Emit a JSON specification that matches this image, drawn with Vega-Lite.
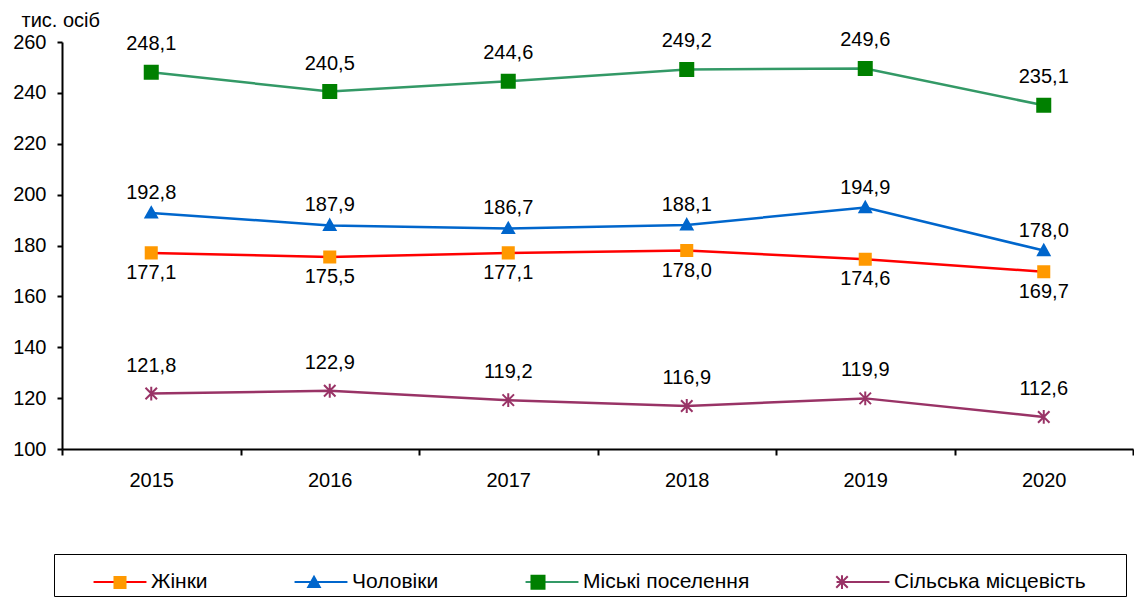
{
  "$schema": "https://vega.github.io/schema/vega-lite/v6.json",
  "width": 1071,
  "height": 407,
  "autosize": {"type": "none"},
  "padding": {"left": 62, "top": 42, "right": 1, "bottom": 161},
  "config": {
    "font": "Liberation Sans",
    "view": {"stroke": null},
    "locale": {"number": {"decimal": ",", "thousands": " ", "grouping": [3], "currency": ["", ""]}}
  },
  "data": {
    "values": [
      {"year": "2015", "series": "Жінки", "value": 177.1},
      {"year": "2016", "series": "Жінки", "value": 175.5},
      {"year": "2017", "series": "Жінки", "value": 177.1},
      {"year": "2018", "series": "Жінки", "value": 178.0},
      {"year": "2019", "series": "Жінки", "value": 174.6},
      {"year": "2020", "series": "Жінки", "value": 169.7},
      {"year": "2015", "series": "Чоловіки", "value": 192.8},
      {"year": "2016", "series": "Чоловіки", "value": 187.9},
      {"year": "2017", "series": "Чоловіки", "value": 186.7},
      {"year": "2018", "series": "Чоловіки", "value": 188.1},
      {"year": "2019", "series": "Чоловіки", "value": 194.9},
      {"year": "2020", "series": "Чоловіки", "value": 178.0},
      {"year": "2015", "series": "Міські поселення", "value": 248.1},
      {"year": "2016", "series": "Міські поселення", "value": 240.5},
      {"year": "2017", "series": "Міські поселення", "value": 244.6},
      {"year": "2018", "series": "Міські поселення", "value": 249.2},
      {"year": "2019", "series": "Міські поселення", "value": 249.6},
      {"year": "2020", "series": "Міські поселення", "value": 235.1},
      {"year": "2015", "series": "Сільська місцевість", "value": 121.8},
      {"year": "2016", "series": "Сільська місцевість", "value": 122.9},
      {"year": "2017", "series": "Сільська місцевість", "value": 119.2},
      {"year": "2018", "series": "Сільська місцевість", "value": 116.9},
      {"year": "2019", "series": "Сільська місцевість", "value": 119.9},
      {"year": "2020", "series": "Сільська місцевість", "value": 112.6}
    ]
  },
  "encoding": {
    "x": {
      "field": "year", "type": "nominal",
      "scale": {"type": "band", "paddingInner": 0, "paddingOuter": 0},
      "axis": {
        "title": null, "tickBand": "extent", "domainColor": "black", "domainWidth": 2,
        "tickColor": "black", "tickWidth": 2, "tickSize": 6, "labelFontSize": 20,
        "labelColor": "black", "labelPadding": 15, "labelAngle": 0, "grid": false
      }
    },
    "y": {
      "field": "value", "type": "quantitative",
      "scale": {"domain": [100, 260], "nice": false, "zero": false},
      "axis": {
        "values": [100, 120, 140, 160, 180, 200, 220, 240, 260],
        "format": "d",
        "title": "тис. осіб", "titleAngle": 0, "titleX": -41, "titleY": -22,
        "titleAlign": "left", "titleBaseline": "middle", "titleFontSize": 20,
        "titleFontWeight": "normal", "titleColor": "black",
        "domainColor": "black", "domainWidth": 2, "tickColor": "black", "tickWidth": 2,
        "tickSize": 5, "labelFontSize": 20, "labelColor": "black", "labelPadding": 11, "grid": false
      }
    }
  },
  "layer": [
    {
      "mark": {"type": "line", "strokeWidth": 2.5},
      "encoding": {
        "color": {
          "field": "series", "type": "nominal",
          "scale": {
            "domain": ["Жінки", "Чоловіки", "Міські поселення", "Сільська місцевість"],
            "range": ["#FF0000", "#0066CC", "#339966", "#993366"]
          },
          "legend": {
            "orient": "none", "legendX": -8, "legendY": 512, "direction": "horizontal",
            "title": " ", "titleOrient": "left", "titlePadding": 38, "titleFontSize": 20,
            "padding": 4, "strokeColor": "black", "symbolType": "M-1.15,0H1.15", "symbolSize": 2116,
            "symbolStrokeWidth": 2, "labelFontSize": 21, "labelColor": "black", "labelLimit": 0,
            "labelOffset": 7, "columnPadding": 82,
            "labelExpr": "indexof(datum.label, 'Сільська') >= 0 ? datum.label + '\u2800\u00a0\u2800' : datum.label"
          }
        }
      }
    },
    {
      "mark": {"type": "point", "filled": true, "size": 2116, "strokeWidth": 2, "opacity": 1},
      "encoding": {
        "fill": {
          "field": "series", "type": "nominal",
          "scale": {
            "domain": ["Жінки", "Чоловіки", "Міські поселення", "Сільська місцевість", "-"],
            "range": ["#FF9900", "#0066CC", "#008000", "#993366", "#000000"]
          },
          "legend": {
            "values": ["Жінки", "Чоловіки", "Міські поселення", "Сільська місцевість"],
            "orient": "none", "legendX": -8, "legendY": 512, "direction": "horizontal",
            "title": " ", "titleOrient": "left", "titlePadding": 38, "titleFontSize": 20,
            "padding": 4, "symbolSize": 2116,
            "symbolStrokeWidth": 2, "labelFontSize": 21, "labelColor": "black", "labelLimit": 0,
            "labelOffset": 7, "columnPadding": 82, "labelOpacity": 0,
            "labelExpr": "indexof(datum.label, 'Сільська') >= 0 ? datum.label + '\u2800\u00a0\u2800' : datum.label"
          }
        },
        "stroke": {
          "field": "series", "type": "nominal",
          "scale": {
            "domain": ["Жінки", "Чоловіки", "Міські поселення", "Сільська місцевість", "-"],
            "range": ["#FF9900", "#0066CC", "#008000", "#993366", "#000000"]
          },
          "legend": {
            "values": ["Жінки", "Чоловіки", "Міські поселення", "Сільська місцевість"],
            "orient": "none", "legendX": -8, "legendY": 512, "direction": "horizontal",
            "title": " ", "titleOrient": "left", "titlePadding": 38, "titleFontSize": 20,
            "padding": 4, "symbolSize": 2116,
            "symbolStrokeWidth": 2, "labelFontSize": 21, "labelColor": "black", "labelLimit": 0,
            "labelOffset": 7, "columnPadding": 82, "labelOpacity": 0,
            "labelExpr": "indexof(datum.label, 'Сільська') >= 0 ? datum.label + '\u2800\u00a0\u2800' : datum.label"
          }
        },
        "shape": {
          "field": "series", "type": "nominal",
          "scale": {
            "domain": ["Жінки", "Чоловіки", "Міські поселення", "Сільська місцевість", "-"],
            "range": [
              "M-0.24,-0.24H0.24V0.24H-0.24Z",
              "M0,-0.25L0.25,0.2L-0.25,0.2Z",
              "M-0.283,-0.283H0.283V0.283H-0.283Z",
              "M-0.25,-0.25L0.25,0.25M-0.25,0.25L0.25,-0.25M0,-0.3V0.3",
              "M0,0"
            ]
          },
          "legend": {
            "values": ["Жінки", "Чоловіки", "Міські поселення", "Сільська місцевість"],
            "orient": "none", "legendX": -8, "legendY": 512, "direction": "horizontal",
            "title": " ", "titleOrient": "left", "titlePadding": 38, "titleFontSize": 20,
            "padding": 4, "symbolSize": 2116,
            "symbolStrokeWidth": 2, "labelFontSize": 21, "labelColor": "black", "labelLimit": 0,
            "labelOffset": 7, "columnPadding": 82, "labelOpacity": 0,
            "labelExpr": "indexof(datum.label, 'Сільська') >= 0 ? datum.label + '\u2800\u00a0\u2800' : datum.label"
          }
        }
      }
    },
    {
      "transform": [{"filter": {"field": "series", "equal": "Жінки"}}],
      "mark": {"type": "text", "dy": 20, "fontSize": 20, "color": "black", "baseline": "middle"},
      "encoding": {"text": {"field": "value", "type": "quantitative", "format": ".1f"}}
    },
    {
      "transform": [{"filter": {"field": "series", "equal": "Чоловіки"}}],
      "mark": {"type": "text", "dy": -20, "fontSize": 20, "color": "black", "baseline": "middle"},
      "encoding": {"text": {"field": "value", "type": "quantitative", "format": ".1f"}}
    },
    {
      "transform": [{"filter": {"field": "series", "oneOf": ["Міські поселення", "Сільська місцевість"]}}],
      "mark": {"type": "text", "dy": -28, "fontSize": 20, "color": "black", "baseline": "middle"},
      "encoding": {"text": {"field": "value", "type": "quantitative", "format": ".1f"}}
    }
  ]
}
